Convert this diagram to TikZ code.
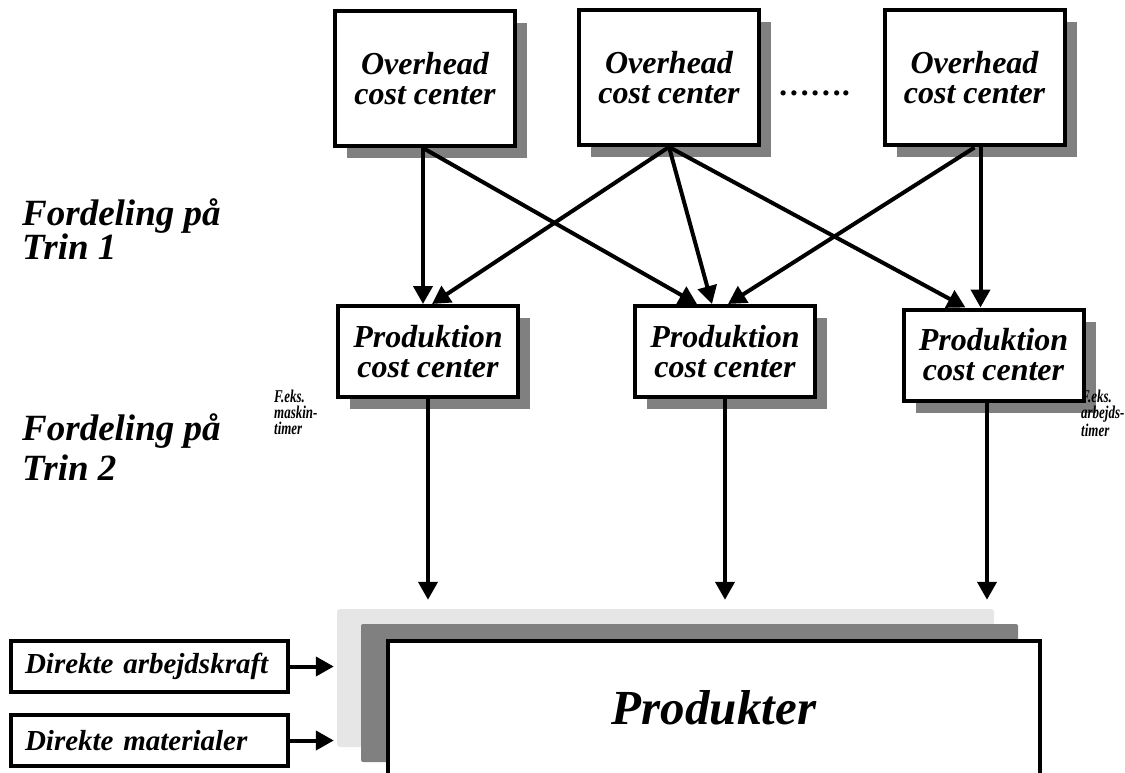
\documentclass[tikz,border=0pt]{standalone}
\usepackage{fontspec}
\setmainfont{Liberation Serif}
\newfontfamily\condfont{Liberation Serif}[FakeStretch=0.72]
\usetikzlibrary{arrows.meta,shadows,calc}
\definecolor{shadowgray}{RGB}{128,128,128}
\definecolor{paleshade}{RGB}{230,230,230}
\begin{document}
\begin{tikzpicture}[x=1pt,y=-1pt,
  box/.style={draw,line width=4pt,fill=white,inner sep=0pt,align=center,
    font=\fontsize{32}{30}\selectfont\bfseries\itshape,
    drop shadow={shadow xshift=12pt,shadow yshift=-12pt,fill=shadowgray,opacity=1}},
  topbox/.style={box,minimum width=180pt,minimum height=135pt},
  prodbox/.style={box,minimum width=180pt,minimum height=91pt},
  inbox/.style={draw,line width=4pt,fill=white,inner ysep=0pt,inner xsep=14pt,
    text width=249pt,align=left,minimum height=51pt,
    font=\fontsize{29}{30}\selectfont\bfseries\itshape},
  arr/.style={line width=4pt,-{Triangle[width=19pt,length=18pt]}},
  lbl/.style={anchor=north west,align=left,inner sep=0pt,
    font=\fontsize{37}{34}\selectfont\bfseries\itshape},
  smalllbl/.style={anchor=north west,align=left,inner sep=0pt,
    font=\condfont\fontsize{18}{16}\selectfont\bfseries\itshape}]
\useasboundingbox (0,0) rectangle (1125,773);
\clip (0,0) rectangle (1125,773);

% top boxes
\node[topbox] (T1) at (425,78.5) {Overhead\\cost center};
\node[topbox] (T2) at (669,77.5) {Overhead\\cost center};
\node[topbox] (T3) at (974.5,78) {Overhead\\cost center};
\node[font=\fontsize{32}{34}\selectfont\bfseries\itshape,inner sep=0pt] (dots) at (815,93) {…….};

% production boxes
\node[prodbox] (P1) at (428,351.5) {Produktion\\cost center};
\node[prodbox] (P2) at (725,351.5) {Produktion\\cost center};
\node[prodbox] (P3) at (993.5,355) {Produktion\\cost center};

% product area
\node[fill=paleshade,rounded corners=3pt,minimum width=657pt,minimum height=138pt,inner sep=0pt] (L) at (665.5,678) {};
\node[fill=shadowgray,rounded corners=2pt,minimum width=657pt,minimum height=138pt,inner sep=0pt] (D) at (689.5,693) {};
\node[draw,line width=4pt,fill=white,minimum width=652pt,minimum height=134pt,inner sep=0pt,
  font=\fontsize{49}{50}\selectfont\bfseries\itshape] (W) at (714,708) {Produkter};

% direct inputs
\node[inbox] (DA) at (149.5,666.5) {Direkte arbejdskraft};
\node[inbox] (DM) at (149.5,740.5) {Direkte materialer};

% labels
\node[lbl] (F1) at (22,199) {Fordeling på\\Trin 1};
\node[lbl,font=\fontsize{37}{40}\selectfont\bfseries\itshape] (F2) at (22,414) {Fordeling på\\Trin 2};
\node[smalllbl] (S1) at (274,390) {F.eks.\\maskin-\\timer};
\node[smalllbl] (S2) at (1081,390) {F.eks.\\arbejds-\\timer};

% step 1 connectors
\draw[arr] ([xshift=-2pt]T1.south) -- ([xshift=-5pt]P1.north);
\draw[arr] ([xshift=-2pt]T1.south) -- ([xshift=-28pt]P2.north);
\draw[arr] (T2.south) -- ([xshift=4pt]P1.north);
\draw[arr] (T2.south) -- ([xshift=-13pt]P2.north);
\draw[arr] (T2.south) -- ([xshift=-28pt]P3.north);
\draw[arr] (T3.south) -- ([xshift=3pt]P2.north);
\draw[arr] ([xshift=6pt]T3.south) -- ([xshift=-13pt]P3.north);

% step 2 connectors
\draw[arr] (P1.south) -- ($(P1.south |- L.north)+(0,-9)$);
\draw[arr] (P2.south) -- ($(P2.south |- L.north)+(0,-9)$);
\draw[arr] ($(P3.south)+(-6.5,0)$) -- ($(P3.south |- L.north)+(-6.5,-9)$);

% direct input connectors
\draw[arr] (DA.east) -- ($(DA.east -| L.west)+(-3,0)$);
\draw[arr] (DM.east) -- ($(DM.east -| L.west)+(-3,0)$);
\end{tikzpicture}
\end{document}
